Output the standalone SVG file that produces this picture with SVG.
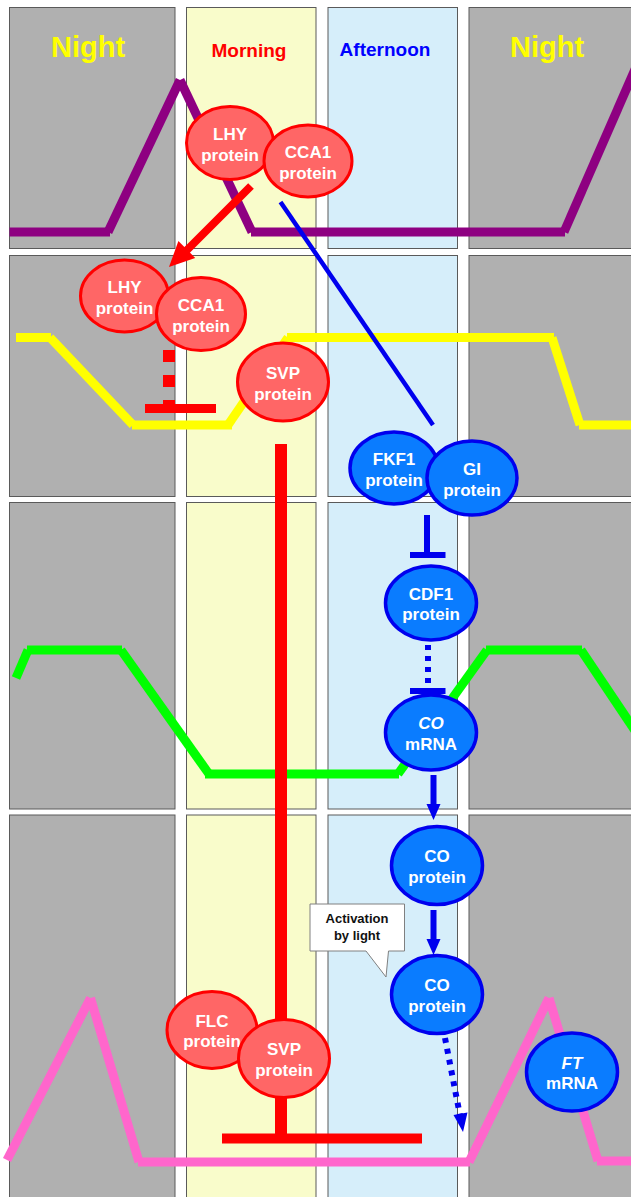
<svg xmlns="http://www.w3.org/2000/svg" width="631" height="1197" viewBox="0 0 631 1197">
  <defs>
    <style>
      .night { fill: #b0b0b0; stroke: #5a5a5a; stroke-width: 1; }
      .morn { fill: #f9fccb; stroke: #5a5a5a; stroke-width: 1; }
      .aft { fill: #d6eefa; stroke: #5a5a5a; stroke-width: 1; }
      .hdr { font-family: "Liberation Sans", Arial, sans-serif; font-weight: bold; text-anchor: middle; }
      .curve { fill: none; stroke-width: 9; stroke-linecap: butt; }
      .rnode ellipse { fill: #ff6666; stroke: #ff0000; stroke-width: 3; }
      .bnode ellipse { fill: #0a7cff; stroke: #0000ee; stroke-width: 3.5; }
      .lbl { font-family: "Liberation Sans", Arial, sans-serif; font-weight: bold; font-size: 17px; fill: #ffffff; text-anchor: middle; }
      .note { font-family: "Liberation Sans", Arial, sans-serif; font-weight: bold; font-size: 13px; fill: #111111; text-anchor: middle; }
    </style>
  </defs>
  <rect width="631" height="1197" fill="#ffffff"/>

  <!-- time-of-day panels -->
  <g id="panels">
    <rect class="night" x="9.5" y="7.5" width="165.5" height="241"/>
    <rect class="morn" x="186.5" y="7.5" width="129.5" height="241"/>
    <rect class="aft" x="328" y="7.5" width="129.5" height="241"/>
    <rect class="night" x="469" y="7.5" width="200" height="241"/>

    <rect class="night" x="9.5" y="255.5" width="165.5" height="241"/>
    <rect class="morn" x="186.5" y="255.5" width="129.5" height="241"/>
    <rect class="aft" x="328" y="255.5" width="129.5" height="241"/>
    <rect class="night" x="469" y="255.5" width="200" height="241"/>

    <rect class="night" x="9.5" y="502.5" width="165.5" height="306.5"/>
    <rect class="morn" x="186.5" y="502.5" width="129.5" height="306.5"/>
    <rect class="aft" x="328" y="502.5" width="129.5" height="306.5"/>
    <rect class="night" x="469" y="502.5" width="200" height="306.5"/>

    <rect class="night" x="9.5" y="815" width="165.5" height="400"/>
    <rect class="morn" x="186.5" y="815" width="129.5" height="400"/>
    <rect class="aft" x="328" y="815" width="129.5" height="400"/>
    <rect class="night" x="469" y="815" width="200" height="400"/>
  </g>

  <g id="headers">
    <text class="hdr" x="88" y="57" font-size="29" fill="#ffff00">Night</text>
    <text class="hdr" x="249" y="57" font-size="19" fill="#ff0000">Morning</text>
    <text class="hdr" x="385" y="56" font-size="19" fill="#0000ff">Afternoon</text>
    <text class="hdr" x="547" y="57" font-size="29" fill="#ffff00">Night</text>
  </g>

  <!-- daily expression profiles -->
  <g id="profiles">
    <g class="curve" stroke="#8e0081">
      <line x1="9.5" y1="232" x2="110" y2="232"/>
      <line x1="108" y1="232" x2="180" y2="80"/>
      <line x1="180" y1="80" x2="252" y2="232"/>
      <line x1="251" y1="232" x2="565" y2="232"/>
      <line x1="564" y1="232" x2="636" y2="67"/>
    </g>
    <g class="curve" stroke="#ffff00">
      <line x1="16" y1="337.5" x2="51" y2="337.5"/>
      <line x1="50" y1="337.5" x2="133" y2="425"/>
      <line x1="132" y1="425" x2="232" y2="425"/>
      <line x1="228" y1="425" x2="288" y2="337.5"/>
      <line x1="287" y1="337.5" x2="554" y2="337.5"/>
      <line x1="552" y1="337.5" x2="580" y2="425"/>
      <line x1="579" y1="425" x2="640" y2="425"/>
    </g>
    <g class="curve" stroke="#00ff00">
      <line x1="16" y1="678" x2="28" y2="650"/>
      <line x1="27" y1="650" x2="122" y2="650"/>
      <line x1="121" y1="650" x2="209" y2="774"/>
      <line x1="205" y1="774" x2="399" y2="774"/>
      <line x1="398" y1="774" x2="487" y2="650"/>
      <line x1="486" y1="650" x2="582" y2="650"/>
      <line x1="581" y1="650" x2="640" y2="738"/>
    </g>
    <g class="curve" stroke="#ff66cc">
      <line x1="7" y1="1160" x2="90.5" y2="998"/>
      <line x1="90.5" y1="998" x2="139" y2="1162"/>
      <line x1="138" y1="1162" x2="470" y2="1162"/>
      <line x1="469" y1="1162" x2="549" y2="998"/>
      <line x1="549" y1="998" x2="598" y2="1161"/>
      <line x1="597" y1="1161" x2="640" y2="1161"/>
    </g>
  </g>

  <!-- regulatory links -->
  <g id="connectors">
    <!-- LHY/CCA1 carried over to the next day -->
    <line x1="251" y1="186" x2="184" y2="253" stroke="#ff0000" stroke-width="8"/>
    <polygon points="169,267 195.2,257.9 178.4,240.9" fill="#ff0000"/>
    <!-- LHY/CCA1 to FKF1 -->
    <line x1="280.5" y1="202" x2="433" y2="425" stroke="#0000ee" stroke-width="4.5"/>
    <!-- LHY/CCA1 repress SVP (dashed) -->
    <line x1="169" y1="350" x2="169" y2="404" stroke="#ff0000" stroke-width="12" stroke-dasharray="12 13"/>
    <line x1="145" y1="408.5" x2="216" y2="408.5" stroke="#ff0000" stroke-width="9"/>
    <!-- SVP represses FT -->
    <line x1="281" y1="444" x2="281" y2="1135" stroke="#ff0000" stroke-width="12"/>
    <line x1="222" y1="1138.5" x2="422" y2="1138.5" stroke="#ff0000" stroke-width="10"/>
    <!-- FKF1/GI repress CDF1 -->
    <line x1="427" y1="515" x2="427" y2="554" stroke="#0000ee" stroke-width="6"/>
    <line x1="410" y1="555" x2="445.5" y2="555" stroke="#0000ee" stroke-width="6"/>
    <!-- CDF1 represses CO transcription -->
    <line x1="428" y1="645" x2="428" y2="688" stroke="#0000ee" stroke-width="6" stroke-dasharray="5 6"/>
    <line x1="410" y1="691" x2="445.5" y2="691" stroke="#0000ee" stroke-width="6"/>
    <!-- CO mRNA to CO protein -->
    <line x1="433.5" y1="775" x2="433.5" y2="806" stroke="#0000ee" stroke-width="6"/>
    <polygon points="433.5,820 426.5,804 440.5,804" fill="#0000ee"/>
    <!-- light-stabilised CO protein -->
    <line x1="433.5" y1="910" x2="433.5" y2="941" stroke="#0000ee" stroke-width="6"/>
    <polygon points="433.5,955 426.5,939 440.5,939" fill="#0000ee"/>
    <!-- CO protein activates FT (dotted) -->
    <line x1="445" y1="1038" x2="460.5" y2="1118" stroke="#0000ee" stroke-width="6" stroke-dasharray="5 6"/>
    <polygon points="463,1132 453.5,1115 467.5,1112.5" fill="#0000ee"/>
  </g>

  <!-- note bubble -->
  <g id="note-light">
    <path d="M310,904 H404.5 V951 H388.5 L386,977 L366,951 H310 Z" fill="#ffffff" stroke="#808080" stroke-width="1"/>
    <text class="note" x="357" y="923">Activation</text>
    <text class="note" x="357" y="939.5">by light</text>
  </g>

  <!-- nodes -->
  <g id="lhy-1" class="rnode">
    <ellipse cx="230" cy="143" rx="43.5" ry="36.5"/>
    <text class="lbl" x="230" y="140">LHY</text>
    <text class="lbl" x="230" y="160.5">protein</text>
  </g>
  <g id="cca1-1" class="rnode">
    <ellipse cx="308" cy="161" rx="44" ry="36"/>
    <text class="lbl" x="308" y="158">CCA1</text>
    <text class="lbl" x="308" y="178.5">protein</text>
  </g>
  <g id="lhy-2" class="rnode">
    <ellipse cx="124.5" cy="296" rx="44" ry="36"/>
    <text class="lbl" x="124.5" y="293">LHY</text>
    <text class="lbl" x="124.5" y="313.5">protein</text>
  </g>
  <g id="cca1-2" class="rnode">
    <ellipse cx="201" cy="314" rx="44.5" ry="36.5"/>
    <text class="lbl" x="201" y="311">CCA1</text>
    <text class="lbl" x="201" y="331.5">protein</text>
  </g>
  <g id="svp-1" class="rnode">
    <ellipse cx="283" cy="382" rx="45.5" ry="39"/>
    <text class="lbl" x="283" y="379">SVP</text>
    <text class="lbl" x="283" y="399.5">protein</text>
  </g>
  <g id="fkf1" class="bnode">
    <ellipse cx="394" cy="468" rx="44" ry="36"/>
    <text class="lbl" x="394" y="465">FKF1</text>
    <text class="lbl" x="394" y="485.5">protein</text>
  </g>
  <g id="gi" class="bnode">
    <ellipse cx="472" cy="478" rx="45" ry="37"/>
    <text class="lbl" x="472" y="475">GI</text>
    <text class="lbl" x="472" y="495.5">protein</text>
  </g>
  <g id="cdf1" class="bnode">
    <ellipse cx="431" cy="603" rx="45.5" ry="37"/>
    <text class="lbl" x="431" y="599.5">CDF1</text>
    <text class="lbl" x="431" y="619.5">protein</text>
  </g>
  <g id="co-mrna" class="bnode">
    <ellipse cx="431" cy="732.5" rx="45.5" ry="37.5"/>
    <text class="lbl" x="431" y="729" font-style="italic">CO</text>
    <text class="lbl" x="431" y="749.5">mRNA</text>
  </g>
  <g id="co-protein-1" class="bnode">
    <ellipse cx="437" cy="865.5" rx="45.5" ry="39"/>
    <text class="lbl" x="437" y="862">CO</text>
    <text class="lbl" x="437" y="882.5">protein</text>
  </g>
  <g id="co-protein-2" class="bnode">
    <ellipse cx="437" cy="994.5" rx="45.5" ry="39"/>
    <text class="lbl" x="437" y="991">CO</text>
    <text class="lbl" x="437" y="1011.5">protein</text>
  </g>
  <g id="flc" class="rnode">
    <ellipse cx="212" cy="1030" rx="45" ry="38.5"/>
    <text class="lbl" x="212" y="1026.5">FLC</text>
    <text class="lbl" x="212" y="1047">protein</text>
  </g>
  <g id="svp-2" class="rnode">
    <ellipse cx="284" cy="1058.5" rx="45.5" ry="39"/>
    <text class="lbl" x="284" y="1055">SVP</text>
    <text class="lbl" x="284" y="1075.5">protein</text>
  </g>
  <g id="ft-mrna" class="bnode">
    <ellipse cx="572" cy="1072" rx="45.5" ry="39"/>
    <text class="lbl" x="572" y="1068.5" font-style="italic">FT</text>
    <text class="lbl" x="572" y="1089">mRNA</text>
  </g>
</svg>
